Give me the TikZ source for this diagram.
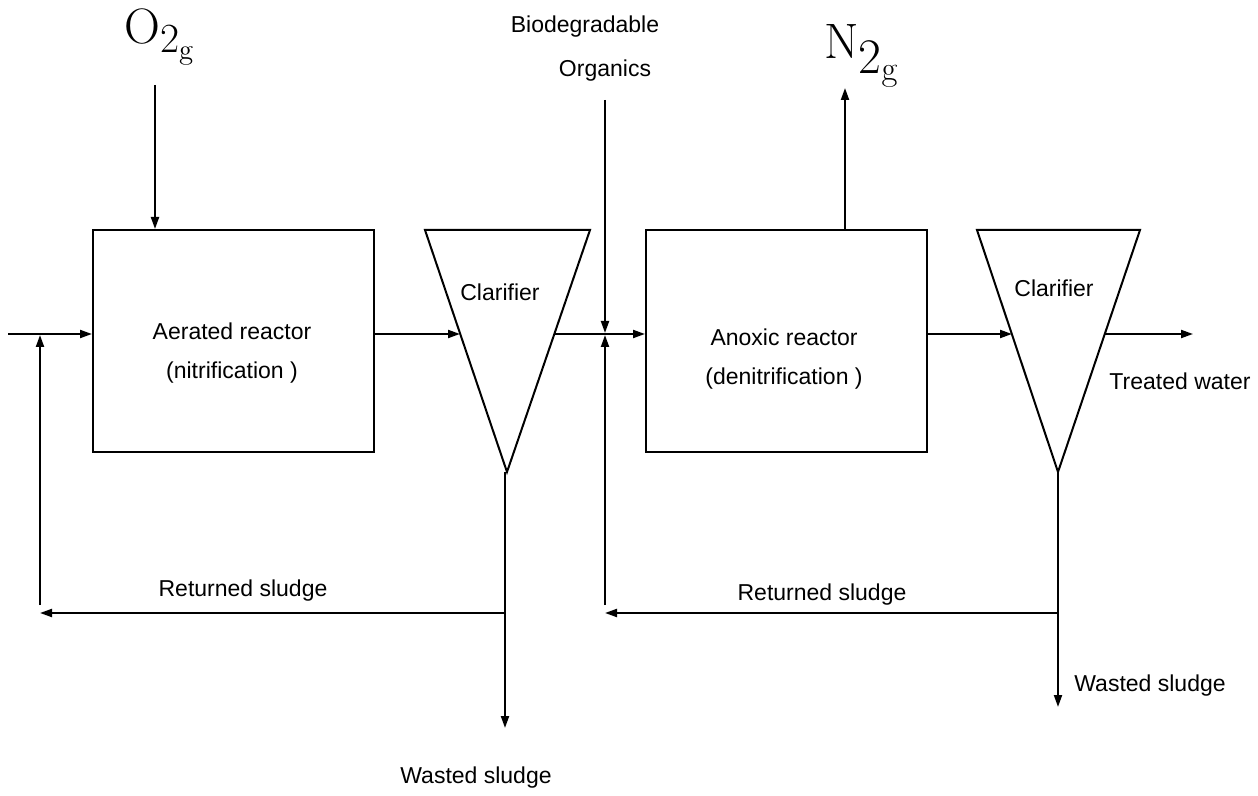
\documentclass[tikz,border=0pt]{standalone}
\usepackage[no-math]{fontspec}
\setmainfont{Liberation Sans}
\usetikzlibrary{arrows.meta}

\begin{document}
\begin{tikzpicture}[x=0.5pt,y=-0.5pt,line width=1pt]
\tikzset{
% Boxes, labels and flow arrows
reactor/.style={draw,minimum width=140.5pt,minimum height=111pt,inner sep=0pt},
lbl/.style={inner sep=0pt,align=center,font=\fontsize{11.5}{19.5}\selectfont},
gas/.style={inner sep=0pt},
flow/.style={-{Triangle[length=6pt,width=4pt]}}
}
\useasboundingbox (0,0) rectangle (1258,796);
% The reactors
\node[reactor] (aerated) at (233.5,341) {};
\node[reactor] (anoxic) at (786.5,341) {};
\node[lbl] (aeratedtxt) at (232,353) {Aerated reactor\\(nitrification )};
\node[lbl] (anoxictxt) at (784,359) {Anoxic reactor\\(denitrification )};
% The clarifiers
\draw (425,230) -- (590,230) -- (507,472) coordinate (c1bot) -- cycle;
\draw (977,230) -- (1140,230) -- (1058,472) coordinate (c2bot) -- cycle;
\node[lbl] (clar1) at (500,292) {Clarifier};
\node[lbl] (clar2) at (1054,288) {Clarifier};
% Points on the main line
\coordinate (feed) at (8,334);
\coordinate (c1in) at (460,334);
\coordinate (c1out) at (555,334);
\coordinate (mix) at (605,334);
\coordinate (c2in) at (1012,334);
\coordinate (c2out) at (1105,334);
\coordinate (effluent) at (1193,334);
% Main flow
\draw[flow] (feed) -- (aerated.west |- feed);
\draw[flow] (aerated.east |- feed) -- (c1in);
\draw[flow] (c1out) -- (anoxic.west |- feed);
\draw[flow] (anoxic.east |- feed) -- (c2in);
\draw[flow] (c2out) -- (effluent);
\node[lbl] (treated) at (1180,381) {Treated water};
% Gases
\node[gas] (o2) at (160,37) {\fontsize{28}{32}\selectfont$\mathrm{O}_{2_{\mathrm{g}}}$};
\coordinate (o2top) at (155,85);
\draw[flow] (o2top) -- (o2top |- aerated.north);
\node[gas] (n2) at (862,56) {\fontsize{38}{42}\selectfont$\mathrm{N}_{2_{\mathrm{g}}}$};
\coordinate (n2top) at (845,88);
\draw[flow] (n2top |- anoxic.north) -- (n2top);
% Organics
\node[lbl] (bio) at (585,27) {Biodegradable};
\node[lbl] (org) at (605,71) {Organics};
\coordinate (orgtop) at (605,100);
\draw[flow,shorten >=0.5pt] (orgtop) -- (mix);
% Sludge lines, first clarifier
\coordinate (split1) at (505,613);
\coordinate (ret1end) at (40,613);
\coordinate (ret1up) at (40,605);
\coordinate (waste1end) at (505,728);
\draw[flow] (c1bot -| split1) -- (waste1end);
\draw[flow] (split1) -- (ret1end);
\draw[flow,shorten >=0.5pt] (ret1up) -- (ret1up |- feed);
\node[lbl] (ret1) at (243,591) {Returned sludge};
\node[lbl] (waste1) at (476,778) {Wasted sludge};
% Sludge lines, second clarifier
\coordinate (split2) at (1058,613);
\coordinate (ret2end) at (605,613);
\coordinate (ret2up) at (605,605);
\coordinate (waste2end) at (1058,707);
\draw[flow] (c2bot) -- (waste2end);
\draw[flow] (split2) -- (ret2end);
\draw[flow,shorten >=0.5pt] (ret2up) -- (mix);
\node[lbl] (ret2) at (822,595) {Returned sludge};
\node[lbl] (waste2) at (1150,686) {Wasted sludge};
\end{tikzpicture}
\end{document}
